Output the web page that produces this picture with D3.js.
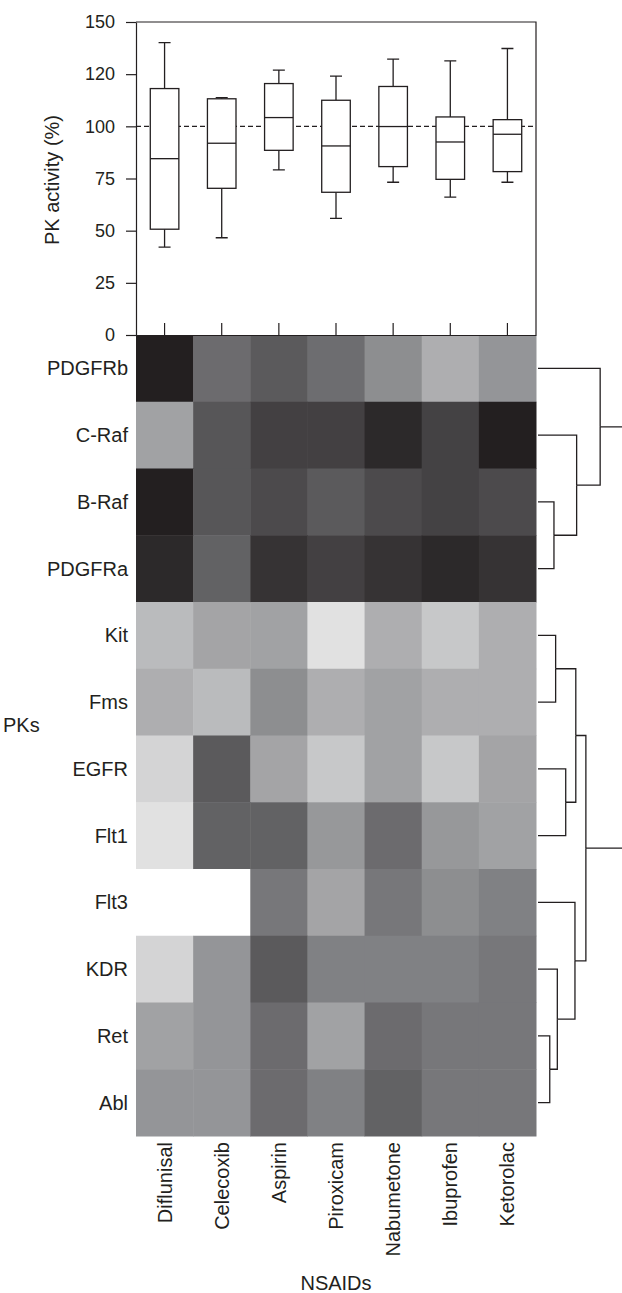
<!DOCTYPE html>
<html>
<head>
<meta charset="utf-8">
<script src="https://cdn.jsdelivr.net/npm/d3@7"></script>
<style>
	body { margin: 0; background: #fff; }
	text { font-family: "Liberation Sans", Arial, Helvetica, sans-serif; fill: #231f20; }
	.axis path, .axis line { stroke: #231f20; stroke-width: 1.2px; }
</style>
</head>
<body>
<div id="chart"></div>
<script>

var drugs = ["Diflunisal", "Celecoxib", "Aspirin", "Piroxicam", "Nabumetone", "Ibuprofen", "Ketorolac"];
var kinases = ["PDGFRb", "C-Raf", "B-Raf", "PDGFRa", "Kit", "Fms", "EGFR", "Flt1", "Flt3", "KDR", "Ret", "Abl"];

// box plot summaries, PK activity in %
var whiskerHigh = [140.1, 113.8, 126.9, 124.1, 132.2, 131.4, 137.3];
var q3 = [118.1, 113.2, 120.5, 112.5, 119.1, 104.5, 103.2];
var medians = [84.5, 91.9, 104.2, 90.6, 99.9, 92.5, 96.2];
var q1 = [50.7, 70.3, 88.5, 68.4, 80.7, 74.6, 78.3];
var whiskerLow = [42.1, 46.6, 79.1, 55.9, 73.2, 66.1, 73.2];

var yTicks = [0, 25, 50, 75, 100, 125, 150];
var yTickLabels = ["0", "25", "50", "75", "100", "120", "150"];

// heat map score per PK row (0 = darkest, 100 = white), columns follow drugs
var heat = [
	[0, 39, 30, 40, 55, 68, 58],
	[63, 28, 17, 17, 5, 18, 0],
	[0, 28, 22, 30, 22, 18, 22],
	[5, 34, 10, 17, 10, 5, 10],
	[73, 64, 63, 88, 68, 78, 68],
	[68, 73, 55, 68, 63, 68, 68],
	[83, 30, 64, 78, 63, 78, 64],
	[88, 34, 34, 59, 39, 59, 63],
	[100, 100, 45, 64, 45, 55, 50],
	[83, 58, 30, 50, 50, 50, 45],
	[63, 58, 39, 63, 39, 45, 45],
	[58, 58, 39, 50, 34, 45, 45]
];

// row clustering, h = merge height
var clusters = { h: 1.1, children: [
	{ h: 0.74, children: [
		{ name: "PDGFRb" },
		{ h: 0.46, children: [
			{ name: "C-Raf" },
			{ h: 0.19, children: [{ name: "B-Raf" }, { name: "PDGFRa" }] }
		]}
	]},
	{ h: 0.57, children: [
		{ h: 0.45, children: [
			{ h: 0.21, children: [{ name: "Kit" }, { name: "Fms" }] },
			{ h: 0.33, children: [{ name: "EGFR" }, { name: "Flt1" }] }
		]},
		{ h: 0.44, children: [
			{ name: "Flt3" },
			{ h: 0.23, children: [
				{ name: "KDR" },
				{ h: 0.14, children: [{ name: "Ret" }, { name: "Abl" }] }
			]}
		]}
	]}
]};

var width = 622, height = 1293;
var left = 136, right = 536, plotTop = 22, plotBottom = 335, heatBottom = 1136;
var ink = "#231f20";

var svg = d3.select("#chart").append("svg")
	.attr("width", width)
	.attr("height", height);

var x = d3.scaleBand().domain(drugs).range([left, right]);
var y = d3.scaleLinear().domain([0, 150]).range([plotBottom, plotTop]);
var row = d3.scaleBand().domain(kinases).range([plotBottom, heatBottom]);
var shade = d3.scaleLinear().domain([0, 50, 100]).range(["#231f20", "#808184", "#ffffff"]);
var dist = d3.scaleLinear().domain([0, 1]).range([right + 2, width]);

// ---- heat map
var cells = svg.append("g");
heat.forEach(function(vals, r) {
	cells.selectAll("rect.r" + r)
		.data(vals)
		.enter().append("rect")
		.attr("class", "r" + r)
		.attr("x", (d, i) => x(drugs[i]))
		.attr("y", row(kinases[r]))
		.attr("width", x.bandwidth() + 0.5)
		.attr("height", row.bandwidth() + 0.5)
		.attr("fill", d => shade(d));
});

svg.append("g").selectAll("text")
	.data(kinases)
	.enter().append("text")
	.attr("x", 128)
	.attr("y", d => row(d) + row.bandwidth() / 2)
	.attr("dy", "0.35em")
	.attr("text-anchor", "end")
	.style("font-size", "20px")
	.text(d => d);

svg.append("g").selectAll("text")
	.data(drugs)
	.enter().append("text")
	.attr("transform", d => "translate(" + (x(d) + x.bandwidth() / 2) + "," + (heatBottom + 6) + ")rotate(-90)")
	.attr("dy", "0.35em")
	.attr("text-anchor", "end")
	.style("font-size", "20px")
	.text(d => d);

svg.append("text")
	.attr("x", (left + right) / 2)
	.attr("y", 1290)
	.attr("text-anchor", "middle")
	.style("font-size", "20px")
	.text("NSAIDs");

svg.append("text")
	.attr("x", 3)
	.attr("y", 725)
	.attr("dy", "0.35em")
	.style("font-size", "20px")
	.text("PKs");

// ---- box plot frame and axes
svg.append("g")
	.attr("class", "axis")
	.attr("transform", "translate(" + left + ",0)")
	.call(d3.axisLeft(y).tickValues(yTicks).tickFormat((d, i) => yTickLabels[i]).tickSize(10).tickPadding(11).tickSizeOuter(0))
	.call(g => g.selectAll("text").style("font-size", "18px").attr("fill", ink).style("font-family", null));

svg.append("g")
	.attr("class", "axis")
	.attr("transform", "translate(0," + plotBottom + ")")
	.call(d3.axisBottom(x).tickSize(-12).tickSizeOuter(0).tickFormat(""));

svg.append("path")
	.attr("d", "M" + left + "," + plotTop + "H" + right + "V" + plotBottom)
	.attr("fill", "none")
	.attr("stroke", ink)
	.attr("stroke-width", 1.2);

svg.append("line")
	.attr("x1", left).attr("x2", right)
	.attr("y1", y(100)).attr("y2", y(100))
	.attr("stroke", ink)
	.attr("stroke-width", 1.2)
	.attr("stroke-dasharray", "5,3");

svg.append("text")
	.attr("transform", "translate(59,180)rotate(-90)")
	.attr("text-anchor", "middle")
	.style("font-size", "20px")
	.text("PK activity (%)");

// ---- boxes
var boxW = x.bandwidth() * 0.5, capW = 12;
var boxes = svg.append("g").selectAll("g")
	.data(drugs)
	.enter().append("g")
	.attr("transform", d => "translate(" + (x(d) + x.bandwidth() / 2) + ",0)")
	.attr("stroke", ink)
	.attr("stroke-width", 1.3)
	.attr("fill", "none");

boxes.append("path")
	.attr("d", (d, i) => "M0," + y(q3[i]) + "V" + y(whiskerHigh[i]) + "M" + (-capW / 2) + "," + y(whiskerHigh[i]) + "h" + capW
		+ "M0," + y(q1[i]) + "V" + y(whiskerLow[i]) + "M" + (-capW / 2) + "," + y(whiskerLow[i]) + "h" + capW);

boxes.append("rect")
	.attr("x", -boxW / 2)
	.attr("width", boxW)
	.attr("y", (d, i) => y(q3[i]))
	.attr("height", (d, i) => y(q1[i]) - y(q3[i]))
	.attr("fill", "#fff");

boxes.append("line")
	.attr("x1", -boxW / 2).attr("x2", boxW / 2)
	.attr("y1", (d, i) => y(medians[i]))
	.attr("y2", (d, i) => y(medians[i]));

// ---- dendrogram
var tree = d3.hierarchy(clusters);
tree.eachAfter(function(n) {
	if (n.children) {
		n.py = d3.mean(n.children, c => c.py);
		n.px = dist(n.data.h);
	} else {
		n.py = row(n.data.name) + row.bandwidth() / 2;
		n.px = dist(0);
	}
});

svg.append("g").selectAll("path")
	.data(tree.links())
	.enter().append("path")
	.attr("d", l => "M" + l.target.px + "," + l.target.py + "H" + l.source.px + "V" + l.source.py)
	.attr("fill", "none")
	.attr("stroke", ink)
	.attr("stroke-width", 1.3);

</script>
</body>
</html>
